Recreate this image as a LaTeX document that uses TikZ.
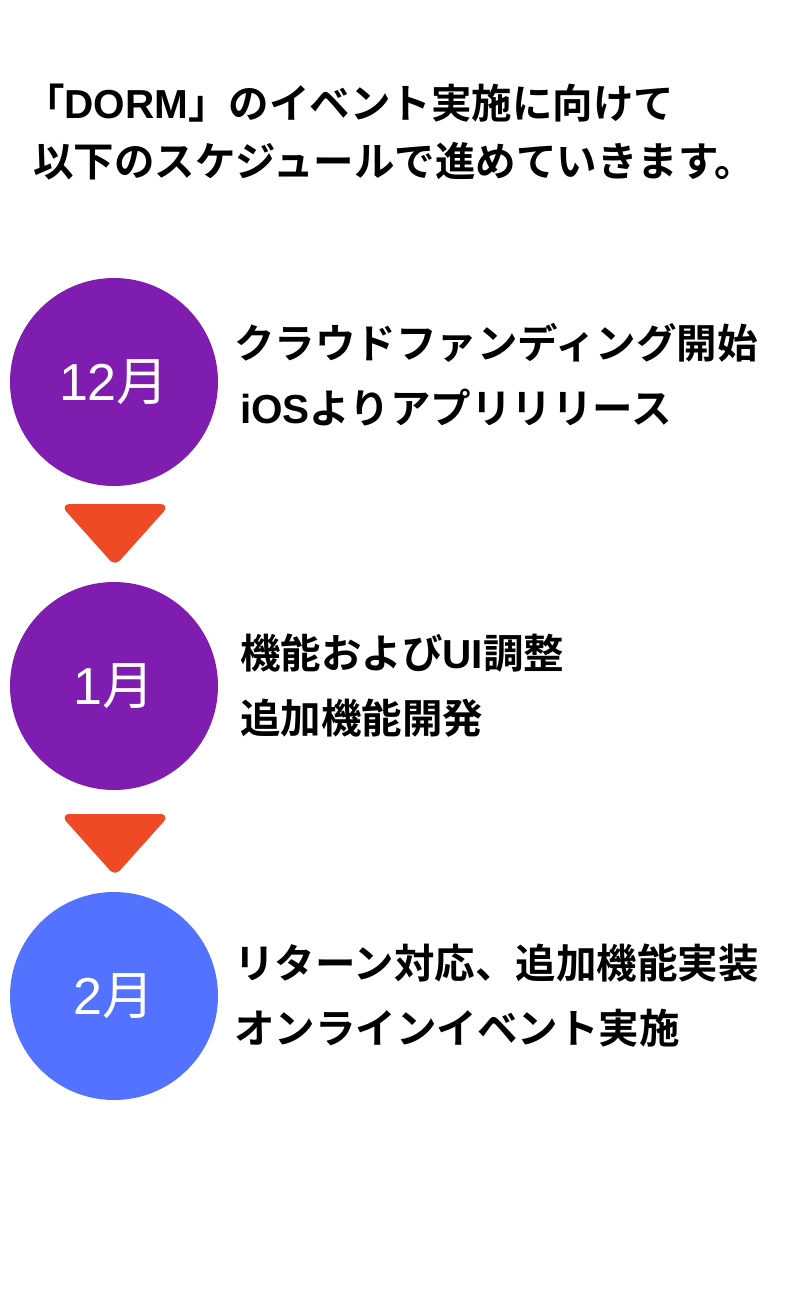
\documentclass[tikz,border=0pt]{standalone}
\usepackage{fontspec}
\newfontfamily\jp{Noto Sans CJK JP}
\newfontfamily\jpbold{Noto Sans CJK JP Bold}
\newfontfamily\latb{Liberation Sans}[BoldFont={Liberation Sans Bold}]
\newfontfamily\latr{Liberation Sans}
\newcommand{\lb}[1]{{\latb\bfseries #1}}
\newcommand{\lr}[1]{{\latr #1}}
\begin{document}
\begin{tikzpicture}[x=1pt,y=-1pt,
  month/.style={circle,minimum size=208pt,inner sep=0pt,text=white,font=\jp\fontsize{52}{52}\selectfont},
  desc/.style={anchor=west,inner sep=0pt,font=\jpbold\fontsize{40.5}{40.5}\selectfont},
  arrowtri/.style={fill=arroworange,draw=arroworange,line width=4pt,rounded corners=5pt,line join=round}]
\definecolor{purp}{HTML}{7E1DB0}
\definecolor{blu}{HTML}{5372FF}
\definecolor{arroworange}{HTML}{EE4A25}
\useasboundingbox[fill=white] (0,0) rectangle (800,1300);
\node[desc] (t1) at (24,103) {「\lb{DORM}」のイベント実施に向けて};
\node[desc] (t2) at (33,161) {以下のスケジュールで進めていきます。};
\node[month,fill=purp] (c1) at (114,382) {\lr{12}月};
\node[month,fill=purp] (c2) at (114,686) {\lr{1}月};
\node[month,fill=blu] (c3) at (114,996) {\lr{2}月};
\node[desc] (a1) at (234,343) {クラウドファンディング開始};
\node[desc] (a2) at (240,408) {\lb{iOS}よりアプリリリース};
\node[desc] (b1) at (240,653) {機能および\lb{UI}調整};
\node[desc] (b2) at (240,718) {追加機能開発};
\node[desc] (d1) at (234,963) {リターン対応、追加機能実装};
\node[desc] (d2) at (234,1028) {オンラインイベント実施};
\draw[arrowtri] (64,506) -- (166,506) -- (115,563) -- cycle;
\draw[arrowtri] (64,816) -- (166,816) -- (115,873) -- cycle;
\end{tikzpicture}
\end{document}
